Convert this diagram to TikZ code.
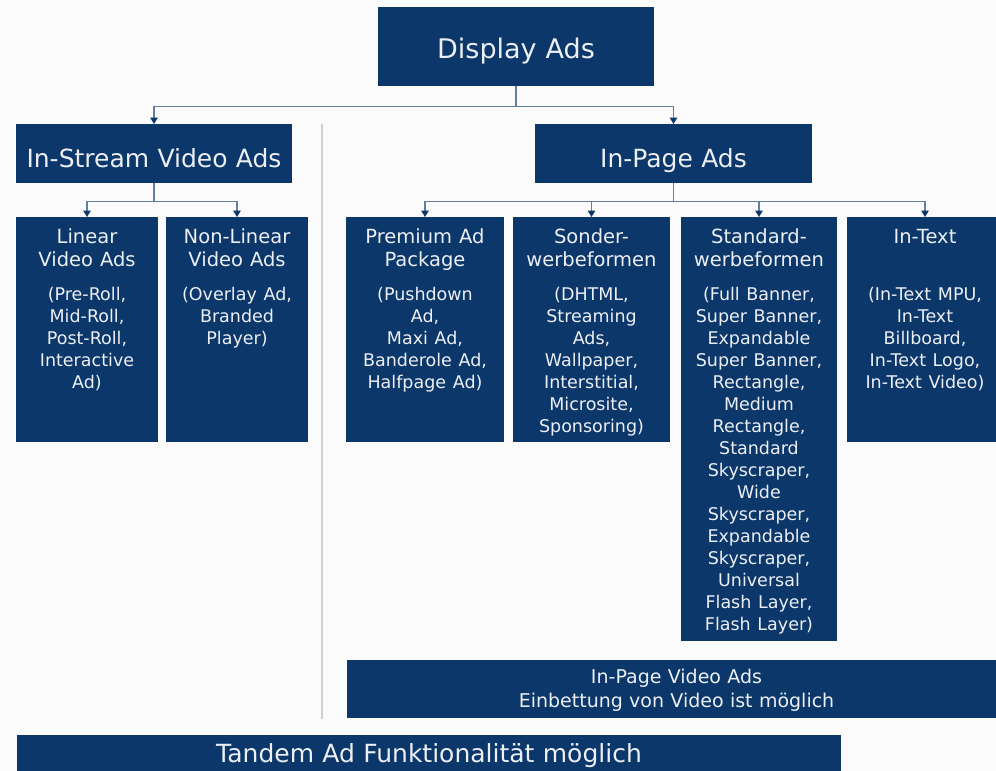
\documentclass[tikz,border=0pt]{standalone}
\usepackage{fontspec}
\setmainfont{DejaVu Sans}
\usepackage{tikz}
\usetikzlibrary{arrows.meta}
\definecolor{adblue}{RGB}{12, 55, 106}
\definecolor{adtext}{RGB}{236, 239, 243}
\definecolor{paper}{RGB}{250, 251, 250}
\definecolor{wire}{RGB}{98, 126, 160}
\definecolor{gray80}{RGB}{204, 209, 217}
\newcommand{\adhead}{\fontsize{19.5}{23}\selectfont\spaceskip=0.36em}
\newcommand{\addetail}{\fontsize{17.5}{22}\selectfont\spaceskip=0.38em}

\begin{document}
\begin{tikzpicture}[x=1pt, y=-1pt,
    adbox/.style={fill=adblue, text=adtext, inner sep=0pt, align=center, anchor=north},
    kidbox/.style={adbox, text height=26pt, text depth=199pt},
    conn/.style={draw=wire, line width=1.5pt, -{Triangle[width=7.5pt, length=6.5pt, color=adblue]}}]

    \fill[paper] (0, 0) rectangle (996, 771);
    \useasboundingbox (0, 0) rectangle (996, 771);

    % top levels
    \node[adbox, text width=276pt, text height=51pt, text depth=28pt,
        font=\fontsize{27}{32}\selectfont] (display) at (516, 7) {Display Ads};
    \node[adbox, text width=276pt, text height=43pt, text depth=16pt,
        font=\fontsize{25}{30}\selectfont] (instream) at (154, 124) {In-Stream Video Ads};
    \node[adbox, text width=277pt, text height=43pt, text depth=16pt,
        font=\fontsize{25}{30}\selectfont] (inpage) at (673.5, 124) {In-Page Ads};

    % in-stream formats
    \node[kidbox, text width=142pt] (linear) at (87, 217)
    {{\adhead Linear\\Video Ads\par}\vspace{12pt}%
        {\addetail (Pre-Roll,\\Mid-Roll,\\Post-Roll,\\Interactive\\Ad)\par}};
    \node[kidbox, text width=142pt] (nonlinear) at (237, 217)
    {{\adhead Non-Linear\\Video Ads\par}\vspace{12pt}%
        {\addetail (Overlay Ad,\\Branded\\Player)\par}};

    % in-page formats
    \node[kidbox, text width=158pt] (premium) at (425, 217)
    {{\adhead Premium Ad\\Package\par}\vspace{12pt}%
        {\addetail (Pushdown\\Ad,\\Maxi Ad,\\Banderole Ad,\\Halfpage Ad)\par}};
    \node[kidbox, text width=157pt] (sonder) at (591.5, 217)
    {{\adhead Sonder-\\werbeformen\par}\vspace{12pt}%
        {\addetail (DHTML,\\Streaming\\Ads,\\Wallpaper,\\Interstitial,\\Microsite,\\Sponsoring)\par}};
    \node[kidbox, text width=156pt, text depth=398pt] (standard) at (759, 217)
    {{\adhead Standard-\\werbeformen\par}\vspace{12pt}%
        {\addetail (Full Banner,\\Super Banner,\\Expandable\\Super Banner,\\Rectangle,\\Medium\\Rectangle,\\Standard\\Skyscraper,\\Wide\\Skyscraper,\\Expandable\\Skyscraper,\\Universal\\Flash Layer,\\Flash Layer)\par}};
    \node[kidbox, text width=156pt] (intext) at (925, 217)
    {{\adhead In-Text\\\strut\par}\vspace{12pt}%
        {\addetail (In-Text MPU,\\In-Text\\Billboard,\\In-Text Logo,\\In-Text Video)\par}};

    % bottom bars
    \node[adbox, text width=659pt, text height=23pt, text depth=35pt,
        font=\fontsize{19}{24}\selectfont] (invideo) at (676.5, 660)
    {In-Page Video Ads\\Einbettung von Video ist möglich};
    \node[adbox, text width=824pt, text height=27pt, text depth=20pt,
        font=\fontsize{25}{30}\selectfont] (tandem) at (429, 735)
    {Tandem Ad Funktionalität möglich};

    % separator
    \coordinate (septop) at (322, 124);
    \coordinate (sepbot) at (322, 719);
    \draw[gray80, line width=1.5pt] (septop) -- (sepbot);

    % connectors
    \draw[conn] (display.south) -- ++(0, 20) -| (instream.north);
    \draw[conn] (display.south) -- ++(0, 20) -| (inpage.north);
    \foreach \kid in {linear, nonlinear} {
            \draw[conn] (instream.south) -- ++(0, 18) -| (\kid.north);
        }
    \foreach \kid in {premium, sonder, standard, intext} {
            \draw[conn] (inpage.south) -- ++(0, 18) -| (\kid.north);
        }

\end{tikzpicture}
\end{document}
